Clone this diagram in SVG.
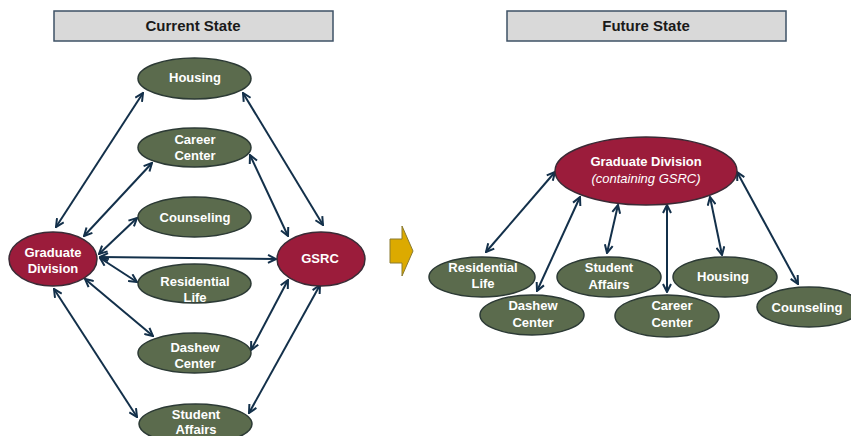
<svg xmlns="http://www.w3.org/2000/svg" width="851" height="436" viewBox="0 0 851 436">
<style>
.hdr{fill:#d9d9d9;stroke:#3e5266;stroke-width:1.5}
.hdrt{font-family:"Liberation Sans",Arial,sans-serif;font-size:15px;font-weight:bold;fill:#1a1a1a;text-anchor:middle}
.g{fill:#5b6b4d;stroke:#2c3a35;stroke-width:1.5}
.r{fill:#9b1c3b;stroke:#3a2a35;stroke-width:1.5}
.t{font-family:"Liberation Sans",Arial,sans-serif;font-size:13px;font-weight:bold;fill:#ffffff;text-anchor:middle}
.ti{font-family:"Liberation Sans",Arial,sans-serif;font-size:13px;font-style:italic;fill:#ffffff;text-anchor:middle}
.c{stroke:#13304a;stroke-width:2;fill:none;marker-start:url(#ah);marker-end:url(#ah)}
</style>
<defs>
<marker id="ah" viewBox="0 0 10 10" refX="9" refY="5" markerWidth="10" markerHeight="10" markerUnits="userSpaceOnUse" orient="auto-start-reverse">
<path d="M1,1 L9,5 L1,9" fill="none" stroke="#13304a" stroke-width="2"/>
</marker>
</defs>
<rect width="851" height="436" fill="#ffffff"/>

<g id="hdr-current"><rect class="hdr" x="54" y="11" width="279" height="30"/><text class="hdrt" x="193" y="31">Current State</text></g>
<g id="hdr-future"><rect class="hdr" x="507" y="11" width="279" height="30"/><text class="hdrt" x="646" y="31">Future State</text></g>

<g id="connectors">
<line class="c" x1="56" y1="227" x2="143" y2="93"/>
<line class="c" x1="84" y1="236" x2="152" y2="163"/>
<line class="c" x1="99" y1="254" x2="137" y2="218"/>
<line class="c" x1="100" y1="257" x2="276" y2="259"/>
<line class="c" x1="100" y1="258" x2="137" y2="282"/>
<line class="c" x1="85" y1="279" x2="153" y2="336"/>
<line class="c" x1="54" y1="289" x2="137" y2="417"/>
<line class="c" x1="243" y1="93" x2="323" y2="225"/>
<line class="c" x1="250" y1="155" x2="288" y2="236"/>
<line class="c" x1="288" y1="280" x2="251" y2="350"/>
<line class="c" x1="320" y1="285" x2="249" y2="413"/>
<line class="c" x1="555" y1="172" x2="486" y2="252"/>
<line class="c" x1="580" y1="197" x2="537" y2="291"/>
<line class="c" x1="618" y1="205" x2="607" y2="253"/>
<line class="c" x1="667" y1="205" x2="667" y2="292"/>
<line class="c" x1="710" y1="197" x2="722" y2="255"/>
<line class="c" x1="737" y1="172" x2="798" y2="284"/>
</g>

<g id="cur-housing"><ellipse class="g" cx="194.5" cy="78.5" rx="56.5" ry="20.5"/><text class="t" x="195" y="82">Housing</text></g>
<g id="cur-career"><ellipse class="g" cx="194.5" cy="147.5" rx="56.5" ry="19.5"/><text class="t" x="195" y="144">Career</text><text class="t" x="195" y="160">Center</text></g>
<g id="cur-counseling"><ellipse class="g" cx="194.5" cy="217" rx="56.5" ry="20"/><text class="t" x="195" y="222">Counseling</text></g>
<g id="cur-residential"><ellipse class="g" cx="194.5" cy="283.5" rx="56.5" ry="19.5"/><text class="t" x="195" y="286">Residential</text><text class="t" x="195" y="302">Life</text></g>
<g id="cur-dashew"><ellipse class="g" cx="194.5" cy="353" rx="56.5" ry="20"/><text class="t" x="195" y="352">Dashew</text><text class="t" x="195" y="368">Center</text></g>
<g id="cur-student"><ellipse class="g" cx="195.5" cy="424" rx="56.5" ry="20"/><text class="t" x="196" y="419">Student</text><text class="t" x="196" y="434">Affairs</text></g>
<g id="cur-graddiv"><ellipse class="r" cx="53" cy="259" rx="44" ry="27"/><text class="t" x="53" y="257">Graduate</text><text class="t" x="53" y="273">Division</text></g>
<g id="cur-gsrc"><ellipse class="r" cx="321" cy="259" rx="44" ry="27"/><text class="t" x="320" y="263">GSRC</text></g>

<g id="transition-arrow"><path d="M390,239 L402,239 L402,226 L413,251 L402,276 L402,263 L390,263 Z" fill="#dcaa00" stroke="#8a7a30" stroke-width="1"/></g>

<g id="fut-graddiv"><ellipse class="r" cx="646" cy="171" rx="91" ry="34"/><text class="t" x="646" y="166">Graduate Division</text><text class="ti" x="646" y="183">(containing GSRC)</text></g>
<g id="fut-residential"><ellipse class="g" cx="482" cy="277" rx="53" ry="20"/><text class="t" x="483" y="272">Residential</text><text class="t" x="483" y="288">Life</text></g>
<g id="fut-dashew"><ellipse class="g" cx="532" cy="315" rx="52" ry="20"/><text class="t" x="533" y="310">Dashew</text><text class="t" x="533" y="327">Center</text></g>
<g id="fut-student"><ellipse class="g" cx="609" cy="277" rx="52" ry="20"/><text class="t" x="609" y="272">Student</text><text class="t" x="609" y="289">Affairs</text></g>
<g id="fut-career"><ellipse class="g" cx="667" cy="316" rx="52" ry="21"/><text class="t" x="672" y="310">Career</text><text class="t" x="672" y="327">Center</text></g>
<g id="fut-housing"><ellipse class="g" cx="725" cy="277" rx="52" ry="20"/><text class="t" x="723" y="281">Housing</text></g>
<g id="fut-counseling"><ellipse class="g" cx="809" cy="307" rx="52" ry="20"/><text class="t" x="807" y="312">Counseling</text></g>
</svg>
